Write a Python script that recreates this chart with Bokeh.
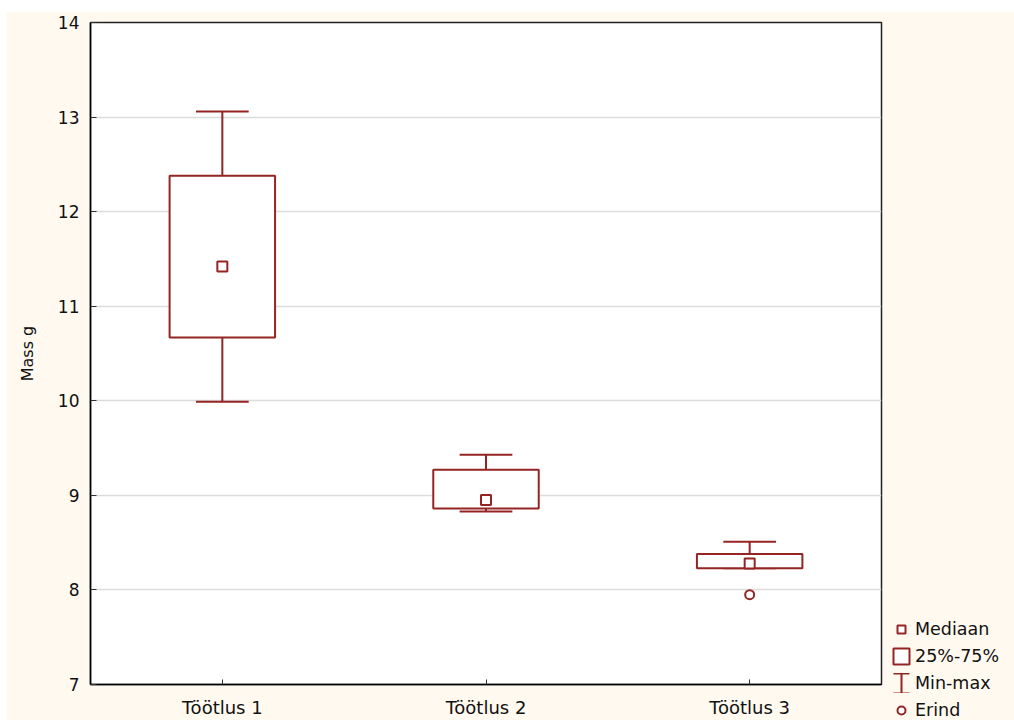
from bokeh.plotting import figure
from bokeh.models import (ColumnDataSource, FactorRange, Legend, LegendItem, Range1d,
                          FixedTicker, CustomJS, Spacer)
from bokeh.layouts import column, row
from bokeh.transform import dodge
from bokeh.embed import file_html
from bokeh.resources import INLINE

# ---- data ----
categories = ["Töötlus 1", "Töötlus 2", "Töötlus 3"]
minimum = [9.99, 8.83, 8.23]
q1 = [10.67, 8.86, 8.23]
median = [11.42, 8.95, 8.28]
q3 = [12.38, 9.27, 8.38]
maximum = [13.06, 9.43, 8.51]
outlier_cat = ["Töötlus 3"]
outlier_val = [7.95]
y_ticks = [7, 8, 9, 10, 11, 12, 13, 14]
legend_labels = ["Mediaan", "25%-75%", "Min-max", "Erind"]
y_label = "Mass g"

RED = "#952424"
BG = "#FFF9EF"
FONT = "DejaVu Sans"
TXT = "#111111"

src = ColumnDataSource(dict(cat=categories, mn=minimum, q1=q1, med=median, q3=q3, mx=maximum))
out_src = ColumnDataSource(dict(cat=outlier_cat, val=outlier_val))

p = figure(x_range=FactorRange(factors=categories, range_padding=0),
           y_range=Range1d(7, 14),
           frame_width=791, frame_height=662,
           min_border_left=84, min_border_right=130, min_border_top=11, min_border_bottom=27,
           output_backend="svg", toolbar_location=None,
           background_fill_color="white", border_fill_color=BG)
# range used only so that the legend-only I-beam glyph never shows in the frame
p.extra_y_ranges = {"legend_only": Range1d(100, 101)}

# whiskers
wkw = dict(line_color=RED, line_width=2)
p.segment(x0="cat", y0="q3", x1="cat", y1="mx", source=src, **wkw)
p.segment(x0="cat", y0="mn", x1="cat", y1="q1", source=src, **wkw)
whisk = p.segment(x0=dodge("cat", -0.1, range=p.x_range), y0="mx",
                  x1=dodge("cat", 0.1, range=p.x_range), y1="mx", source=src, **wkw)
p.segment(x0=dodge("cat", -0.1, range=p.x_range), y0="mn",
          x1=dodge("cat", 0.1, range=p.x_range), y1="mn", source=src, **wkw)

# boxes
box = p.vbar(x="cat", width=0.4, bottom="q1", top="q3", source=src,
             fill_color="white", line_color=RED, line_width=2)

# medians
med_r = p.scatter(x="cat", y="med", source=src, marker="square", size=10,
                  fill_color="white", line_color=RED, line_width=2)

# outliers
out_r = p.scatter(x="cat", y="val", source=out_src, marker="circle", size=9,
                  fill_color="white", line_color=RED, line_width=2)

# legend glyph for min-max (I-beam)
ibeam_js = """
export default (args, obj, data) => {
  const ctx = data.ctx;
  const r = data.r;
  const hw = 2.0*r, hh = 2.5*r;
  ctx.beginPath();
  ctx.moveTo(-hw, -hh); ctx.lineTo(hw, -hh);
  ctx.moveTo(0, -hh); ctx.lineTo(0, hh);
  ctx.moveTo(-hw, hh); ctx.lineTo(hw, hh);
  ctx.strokeStyle = "%s";
  ctx.lineWidth = 2;
  ctx.stroke();
}
""" % RED
try:
    mm_r = p.scatter(x="cat", y="mx", source=src, marker="@ibeam",
                     defs={"@ibeam": CustomJS(code=ibeam_js)},
                     size=9, line_color=RED, line_width=2, y_range_name="legend_only")
except Exception:
    mm_r = whisk

legend = Legend(items=[
    LegendItem(label=legend_labels[0], renderers=[med_r]),
    LegendItem(label=legend_labels[1], renderers=[box]),
    LegendItem(label=legend_labels[2], renderers=[mm_r]),
    LegendItem(label=legend_labels[3], renderers=[out_r]),
], location=(10, -36), orientation="vertical",
    glyph_width=20, glyph_height=20, spacing=7, padding=0, margin=0,
    label_standoff=4, label_height=20,
    label_text_font=FONT, label_text_font_size="17.5px", label_text_color=TXT,
    border_line_color=None, background_fill_alpha=0)
p.add_layout(legend, "right")

# axes
p.yaxis.ticker = FixedTicker(ticks=y_ticks)
for ax in (p.xaxis, p.yaxis):
    ax.axis_line_color = "black"
    ax.axis_line_width = 1.5
    ax.major_tick_line_color = "#333333"
    ax.major_tick_out = 0
    ax.minor_tick_line_color = None
    ax.major_label_text_font = FONT
    ax.major_label_text_color = TXT
p.yaxis.major_tick_in = 6
p.xaxis.major_tick_in = 5
p.yaxis.major_label_text_font_size = "17px"
p.xaxis.major_label_text_font_size = "18px"
p.yaxis.major_label_standoff = 11
p.xaxis.major_label_standoff = 12
p.yaxis.axis_label = y_label
p.yaxis.axis_label_text_font = FONT
p.yaxis.axis_label_text_font_size = "16px"
p.yaxis.axis_label_text_font_style = "normal"
p.yaxis.axis_label_text_color = TXT
p.yaxis.axis_label_standoff = 18

p.xgrid.grid_line_color = None
p.ygrid.grid_line_color = "#dcdcdc"
p.ygrid.grid_line_width = 1.5
p.outline_line_color = "#222222"
p.outline_line_width = 1.5

layout = column(Spacer(height=11), row(Spacer(width=6), p))
open("out.html", "w").write(file_html(layout, INLINE))
